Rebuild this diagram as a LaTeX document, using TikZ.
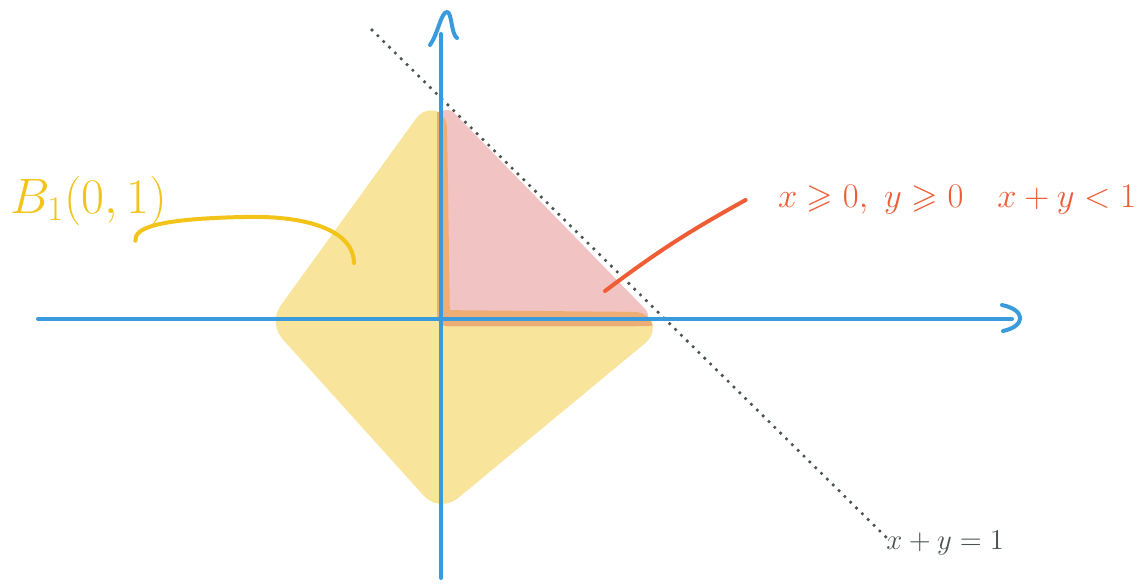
\documentclass[tikz,border=0pt]{standalone}
\usepackage{amssymb}
\usepackage{tikz}
\usetikzlibrary{positioning}

\definecolor{axisblue}{HTML}{3A9BDC}
\definecolor{ballyellow}{HTML}{F8E59B}
\definecolor{quadpink}{HTML}{F2C3C3}
\definecolor{overlap}{HTML}{EDAE76}
\definecolor{notegold}{HTML}{F2C318}
\definecolor{notered}{HTML}{EE5D35}
\definecolor{dotgray}{HTML}{4A5252}

\newcommand{\ballpath}{(433,119) -- (436,324) -- (644,326) -- (441,494) -- (286,322) -- cycle}

\begin{document}
\begin{tikzpicture}[
    x=0.5pt, y=-0.5pt,
    line cap=round, line join=round,
    axis/.style={draw=axisblue, line width=2pt},
    blob/.style={line width=14pt, rounded corners=5pt},
    notecurve/.style={line width=2pt},
    lbl/.style={inner sep=0pt},
  ]
    \useasboundingbox (0,0) rectangle (1144,584);

    % ---------- regions ----------
    \draw[blob, draw=ballyellow, fill=ballyellow] \ballpath;
    \draw[line width=10pt, draw=quadpink, fill=quadpink]
      (447,120) -- (447,316) -- (638,316) -- cycle;
    % where the two strokes cross
    \begin{scope}
      \clip[rounded corners=5pt] (437,97) -- (437,326) -- (660,326) -- cycle;
      \draw[blob, draw=overlap, fill=overlap] \ballpath;
    \end{scope}

    % ---------- line x+y=1 ----------
    \coordinate (lnA) at (372,30);
    \coordinate (lnB) at (891,542);
    \draw[dotgray, line width=1.8pt, dash pattern=on 0pt off 4.1pt] (lnA) -- (lnB);

    % ---------- axes ----------
    \coordinate (O)  at (441,319);
    \coordinate (xL) at (38,319);
    \coordinate (xR) at (1012,319);
    \coordinate (yB) at (441,578);
    \coordinate (yT) at (441,34);
    \draw[axis] (xL) -- (xR);
    \draw[axis] (yB) -- (yT);
    \draw[axis] (1002,305) .. controls (1026,310) and (1026,326) .. (1003,331);
    \draw[axis] (430,45) .. controls (438,34) and (441,12) .. (447,12)
      .. controls (452,12) and (451,34) .. (457,38);

    % ---------- labels ----------
    \node[lbl, notegold, anchor=base west, font=\fontsize{26}{26}\selectfont]
      (ballLbl) at (10,213) {$B_1(0,1)$};
    \node[lbl, notered, font=\fontsize{17}{17}\selectfont]
      (quadLbl) at (957,200) {$x\geqslant 0,\ y\geqslant 0\quad x+y<1$};
    \node[lbl, dotgray, anchor=west, font=\fontsize{15}{15}\selectfont]
      (lineLbl) at (886,543) {$x+y=1$};

    % ---------- pointers ----------
    \coordinate (ballTip) at (354,263);
    \coordinate (quadTip) at (605,291);
    \draw[notecurve, notegold] ([xshift=-16pt, yshift=-7.5pt]ballLbl.south east)
      .. controls +(-1,-12) and +(-90,2) .. (243,217)
      .. controls +(70,-2) and +(0,-30) .. (ballTip);
    \draw[notecurve, notered] (quadTip) to[bend left=4] ([xshift=-16pt]quadLbl.west);
  \end{tikzpicture}
\end{document}
